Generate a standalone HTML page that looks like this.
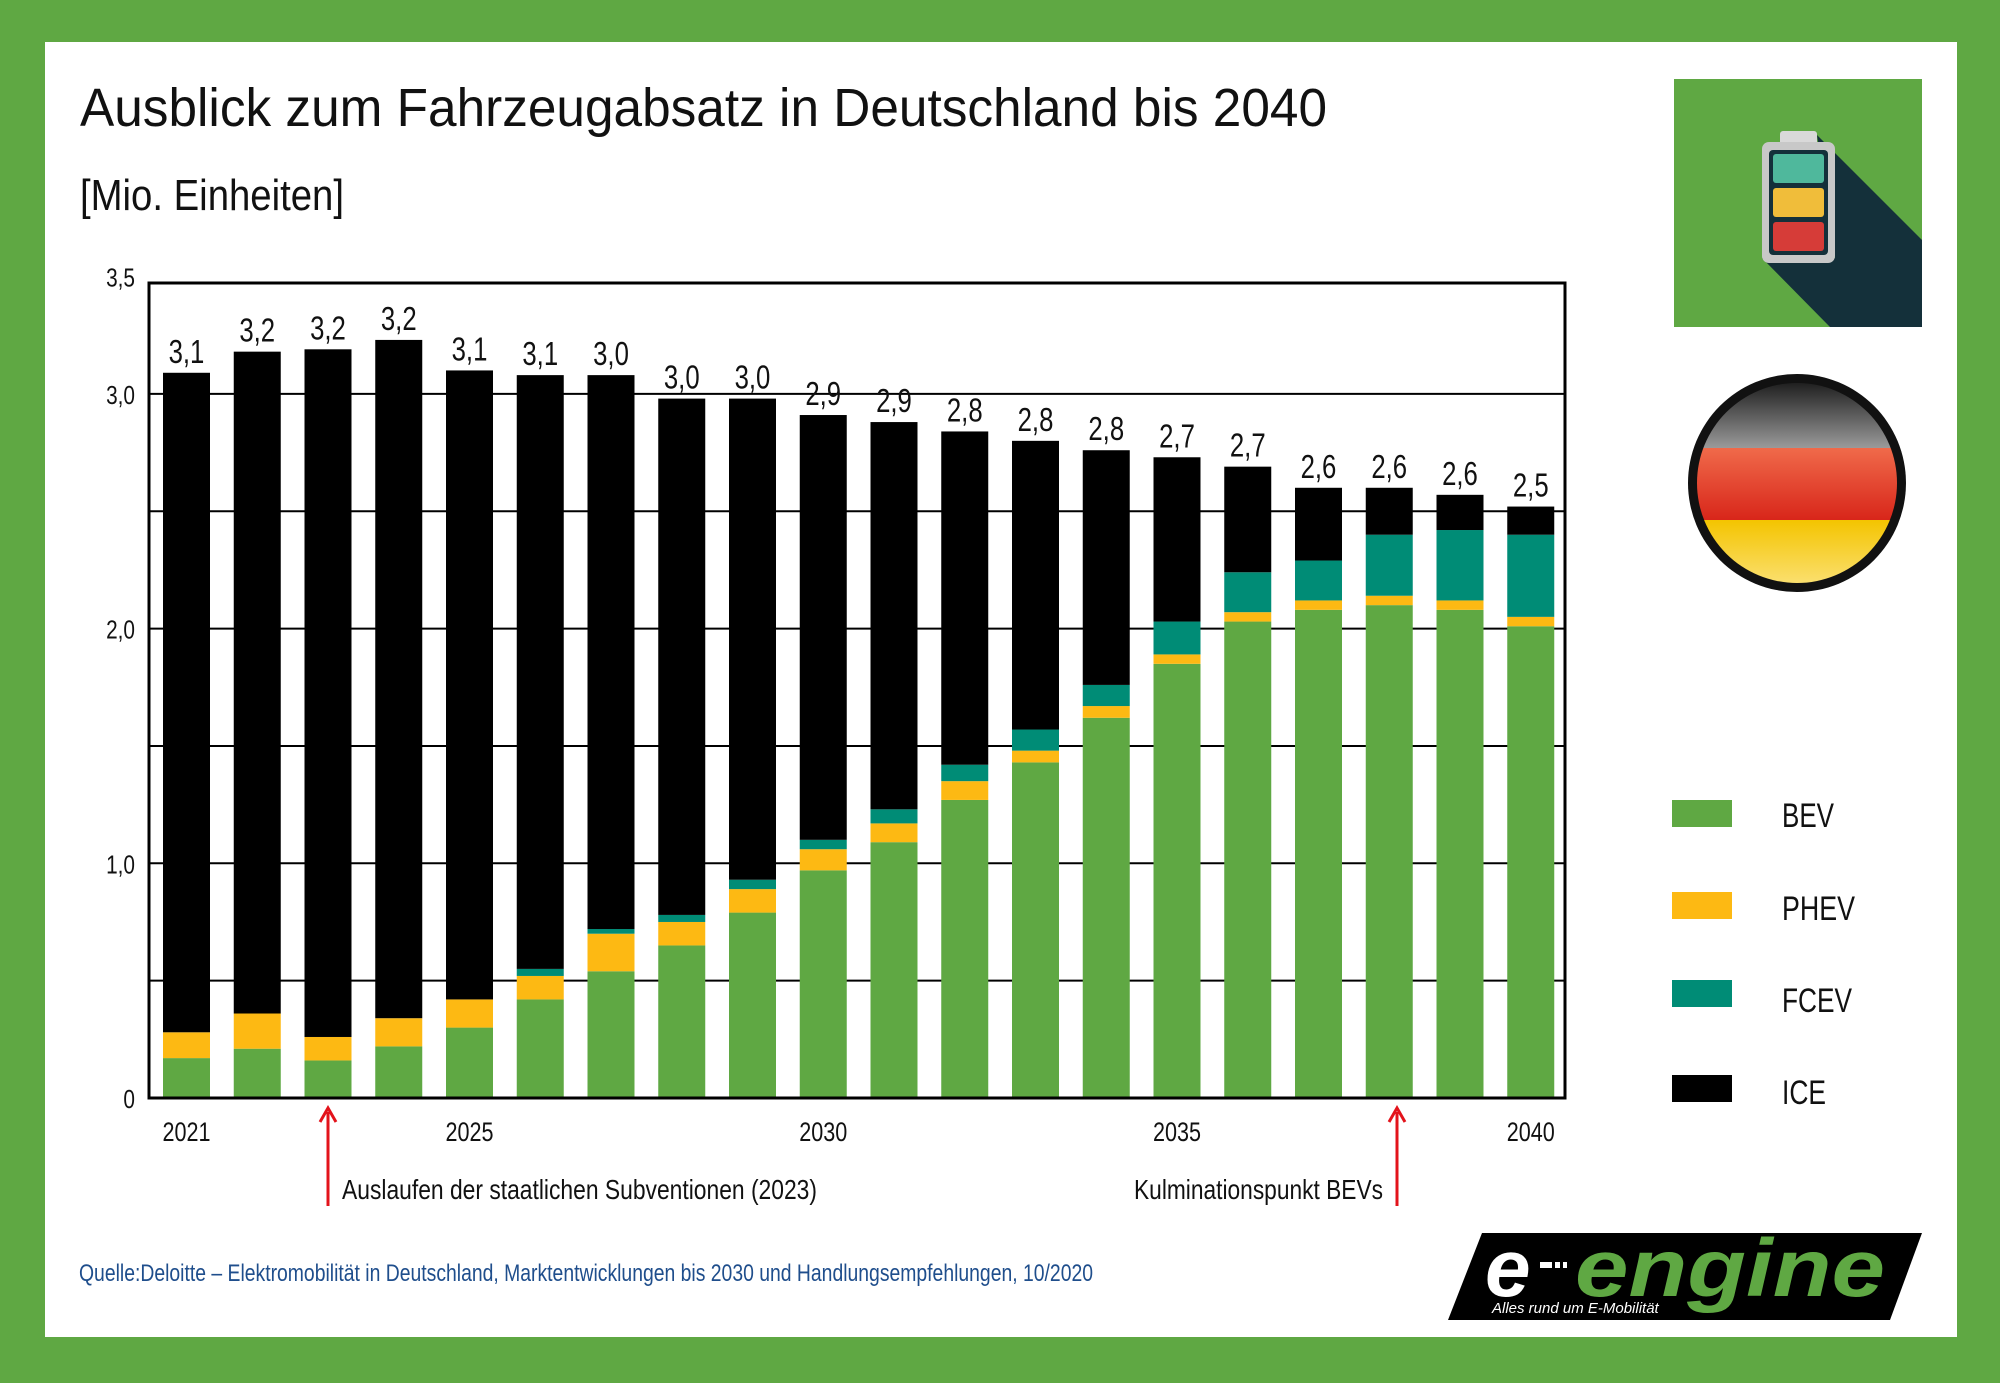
<!DOCTYPE html>
<html><head><meta charset="utf-8"><style>
html,body{margin:0;padding:0;width:2000px;height:1383px;overflow:hidden;background:#5fa843}
svg{display:block}
text{font-family:"Liberation Sans Narrow","Liberation Sans",sans-serif}
</style></head><body>
<svg id="chart" width="2000" height="1383" viewBox="0 0 2000 1383" xmlns="http://www.w3.org/2000/svg">
<rect x="0" y="0" width="2000" height="1383" fill="#5fa843"/>
<rect x="45" y="42" width="1912" height="1295" fill="#ffffff"/>
<text x="80" y="126" font-size="54" fill="#111" textLength="1247" lengthAdjust="spacingAndGlyphs">Ausblick zum Fahrzeugabsatz in Deutschland bis 2040</text>
<text x="80" y="210" font-size="44" fill="#111" textLength="264" lengthAdjust="spacingAndGlyphs">[Mio. Einheiten]</text>

<g id="grid"></g>
<g id="bars"></g>
<g id="labels"></g>
<g id="yticks"></g>
<g id="xticks"></g>
<rect x="149" y="283" width="1416" height="815" fill="none" stroke="#000" stroke-width="3"/>

<g>
<line x1="328" y1="1206" x2="328" y2="1112" stroke="#e3131b" stroke-width="3"/>
<path d="M320 1122 L328 1108 L336 1122" fill="none" stroke="#e3131b" stroke-width="3"/>
<text x="342" y="1199" font-size="28" fill="#111" textLength="475" lengthAdjust="spacingAndGlyphs">Auslaufen der staatlichen Subventionen (2023)</text>
</g>
<g>
<line x1="1397" y1="1206" x2="1397" y2="1112" stroke="#e3131b" stroke-width="3"/>
<path d="M1389 1122 L1397 1108 L1405 1122" fill="none" stroke="#e3131b" stroke-width="3"/>
<text x="1383" y="1199" font-size="28" fill="#111" text-anchor="end" textLength="249" lengthAdjust="spacingAndGlyphs">Kulminationspunkt BEVs</text>
</g>
<text x="79" y="1281" font-size="24" fill="#1f4e8c" textLength="1014" lengthAdjust="spacingAndGlyphs">Quelle:Deloitte – Elektromobilität in Deutschland, Marktentwicklungen bis 2030 und Handlungsempfehlungen, 10/2020</text>

<g>
<rect x="1672" y="800" width="60" height="27" fill="#5fa843"/>
<text x="1782" y="827" font-size="34" fill="#111" textLength="52" lengthAdjust="spacingAndGlyphs">BEV</text>
<rect x="1672" y="892" width="60" height="27" fill="#fdb913"/>
<text x="1782" y="920" font-size="34" fill="#111" textLength="73" lengthAdjust="spacingAndGlyphs">PHEV</text>
<rect x="1672" y="980" width="60" height="27" fill="#008c76"/>
<text x="1782" y="1012" font-size="34" fill="#111" textLength="70" lengthAdjust="spacingAndGlyphs">FCEV</text>
<rect x="1672" y="1075" width="60" height="27" fill="#000"/>
<text x="1782" y="1104" font-size="34" fill="#111" textLength="44" lengthAdjust="spacingAndGlyphs">ICE</text>
</g>

<g>
<rect x="1674" y="79" width="248" height="248" fill="#5fa843"/>
<polygon points="1817,135 1922,240 1922,327 1830,327 1762,258 1835,258" fill="#14303a"/>
<rect x="1780" y="131" width="37" height="14" rx="3" fill="#d9d9d9"/>
<rect x="1762" y="142" width="73" height="121" rx="7" fill="#c8c8c8"/>
<rect x="1769" y="150" width="59" height="105" rx="4" fill="#14303a"/>
<rect x="1773" y="154" width="51" height="29" rx="3" fill="#4fb89c"/>
<rect x="1773" y="188" width="51" height="29" rx="3" fill="#f0bd3a"/>
<rect x="1773" y="222" width="51" height="29" rx="3" fill="#d63c38"/>
</g>

<g>
<defs><clipPath id="fc"><circle cx="1797" cy="483" r="100"/></clipPath>
<linearGradient id="gt" x1="0" y1="0" x2="0" y2="1"><stop offset="0" stop-color="#1a1a1a"/><stop offset="1" stop-color="#9a9a9a"/></linearGradient>
<linearGradient id="gr" x1="0" y1="0" x2="0" y2="1"><stop offset="0" stop-color="#f06a4a"/><stop offset="1" stop-color="#d8261a"/></linearGradient>
<linearGradient id="gy" x1="0" y1="0" x2="0" y2="1"><stop offset="0" stop-color="#f4c400"/><stop offset="1" stop-color="#fbe27a"/></linearGradient></defs>
<circle cx="1797" cy="483" r="109" fill="#111"/>
<g clip-path="url(#fc)">
<rect x="1690" y="380" width="220" height="68" fill="url(#gt)"/>
<rect x="1690" y="448" width="220" height="72" fill="url(#gr)"/>
<rect x="1690" y="520" width="220" height="70" fill="url(#gy)"/>
</g>
</g>

<g>
<polygon points="1482,1233 1922,1233 1890,1320 1448,1320" fill="#000"/>
<text x="1485" y="1296" font-size="82" font-style="italic" font-weight="bold" fill="#fff" font-family="Liberation Sans, sans-serif">e</text>
<rect x="1540" y="1262" width="12" height="6" fill="#fff"/><rect x="1555" y="1262" width="5" height="6" fill="#fff"/><rect x="1563" y="1262" width="4" height="6" fill="#fff"/>
<text x="1575" y="1296" font-size="82" font-style="italic" font-weight="bold" fill="#5fa843" textLength="310" lengthAdjust="spacingAndGlyphs" font-family="Liberation Sans, sans-serif">engine</text>
<text x="1492" y="1313" font-size="15" font-style="italic" fill="#fff" font-family="Liberation Sans, sans-serif">Alles rund um E-Mobilität</text>
</g>
</svg>
<script>
const years = [2021,2022,2023,2024,2025,2026,2027,2028,2029,2030,2031,2032,2033,2034,2035,2036,2037,2038,2039,2040];
const totalLabels = ["3,1","3,2","3,2","3,2","3,1","3,1","3,0","3,0","3,0","2,9","2,9","2,8","2,8","2,8","2,7","2,7","2,6","2,6","2,6","2,5"];
const bev  = [0.17,0.21,0.16,0.22,0.30,0.42,0.54,0.65,0.79,0.97,1.09,1.27,1.43,1.62,1.85,2.03,2.08,2.10,2.08,2.01];
const phev = [0.11,0.15,0.10,0.12,0.12,0.10,0.16,0.10,0.10,0.09,0.08,0.08,0.05,0.05,0.04,0.04,0.04,0.04,0.04,0.04];
const fcev = [0,0,0,0,0,0.03,0.02,0.03,0.04,0.04,0.06,0.07,0.09,0.09,0.14,0.17,0.17,0.26,0.30,0.35];
const ice  = [2.81,2.82,2.93,2.89,2.68,2.53,2.36,2.20,2.05,1.81,1.65,1.42,1.23,1.00,0.70,0.45,0.31,0.20,0.15,0.12];
const yTicks = [0,0.5,1,1.5,2,2.5,3,3.5];
const yTickLabels = ["0","","1,0","","2,0","","3,0","3,5"];
const xTickYears = [2021,2025,2030,2035,2040];

const NS="http://www.w3.org/2000/svg";
const X0=163, PITCH=70.75, BW=47, Y0=1098, UNIT=234.7;
function xPos(i){return X0+i*PITCH;}
function yPos(v){return Y0-v*UNIT;}
function mk(tag,attrs,parent){const e=document.createElementNS(NS,tag);for(const k in attrs)e.setAttribute(k,attrs[k]);parent.appendChild(e);return e;}

const grid=document.getElementById('grid');
const yt=document.getElementById('yticks');
yTicks.forEach((v,i)=>{
  if(v>0 && v<3.5){
    const l=mk('line',{x1:149,x2:1565,y1:yPos(v),y2:yPos(v),stroke:'#000','stroke-width':2},grid);
    
    
  }
  if(yTickLabels[i]){
    const t=mk('text',{x:135,y:yPos(v)+10,'font-size':26,'text-anchor':'end',fill:'#111',transform:'translate('+(135*0.2)+',0) scale(0.8,1)'},yt);
    t.setAttribute('x',135/0.8-135*0.2/0.8);
    t.textContent=yTickLabels[i];
    
    
  }
});

const bars=document.getElementById('bars');
const labels=document.getElementById('labels');
const series=[[bev,'#5fa843','bev'],[phev,'#fdb913','phev'],[fcev,'#008c76','fcev'],[ice,'#000000','ice']];
years.forEach((yr,i)=>{
  let base=0;
  series.forEach(([arr,col,nm])=>{
    const v=arr[i];
    if(v>0){
      const r=mk('rect',{x:xPos(i),y:yPos(base+v),width:BW,height:v*UNIT,fill:col},bars);
      
      
    }
    base+=v;
  });
  const cx=xPos(i)+BW/2;
  const t=mk('text',{x:cx/0.78,y:yPos(base)-10,'font-size':33,'text-anchor':'middle',fill:'#111',transform:'scale(0.78,1)'},labels);
  t.textContent=totalLabels[i];
  
  
});

const xt=document.getElementById('xticks');
xTickYears.forEach(yr=>{
  const i=years.indexOf(yr);
  const cx=xPos(i)+BW/2;
  const t=mk('text',{x:cx/0.8,y:1141,'font-size':27,'text-anchor':'middle',fill:'#111',transform:'scale(0.8,1)'},xt);
  t.textContent=String(yr);
  
  
});
</script>
</body></html>
